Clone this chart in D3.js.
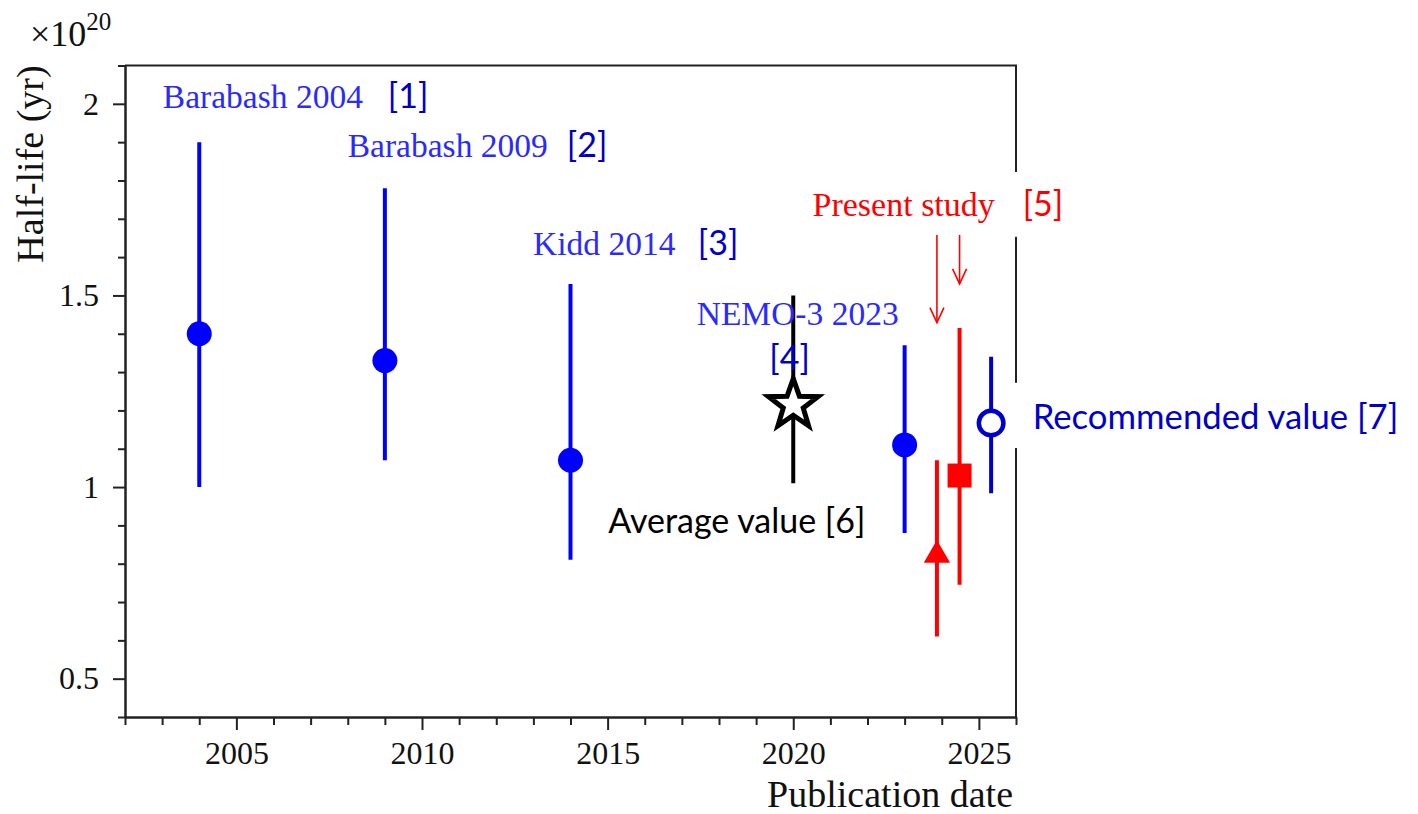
<!DOCTYPE html>
<html>
<head>
<meta charset="utf-8">
<script src="https://cdn.jsdelivr.net/npm/d3@7"></script>
<style>
  body { margin: 0; background: #fff; }
  svg { display: block; }
</style>
</head>
<body>
<svg id="chart" width="1418" height="814"></svg>
<script>
// Earlier measurements of the half-life (units of 10^20 yr)
const measurementNames = ["Barabash 2004", "Barabash 2009", "Kidd 2014", "NEMO-3 2023"];
const measurementRefs = ["[1]", "[2]", "[3]", "[4]"];
const measurementYears = [2004, 2009, 2014, 2023];
const measurementValues = [1.40, 1.33, 1.07, 1.11];
const measurementUpper = [1.90, 1.78, 1.53, 1.37];
const measurementLower = [1.00, 1.07, 0.81, 0.88];

// Average of the earlier measurements
const averageYear = [2020];
const averageValue = [1.215];
const averageUpper = [1.50];
const averageLower = [1.01];

// Present study: two results (triangle, square)
const presentYears = [2023.87, 2024.48];
const presentValues = [0.83, 1.03];
const presentUpper = [1.07, 1.415];
const presentLower = [0.61, 0.745];

// Recommended value
const recommendedYear = [2025.33];
const recommendedValue = [1.167];
const recommendedUpper = [1.34];
const recommendedLower = [0.984];

// Axes
const xTickLabels = [2005, 2010, 2015, 2020, 2025];
const yTickLabels = [0.5, 1, 1.5, 2];
const xDomain = [2002, 2026];
const yDomain = [0.4, 2.1];

const SERIF = "'Liberation Serif', 'Times New Roman', serif";
const SANS = "Lato, 'Open Sans', sans-serif";
const BLUE = "#0000ff";
const LABEL_BLUE = "#2a2aff";
const REF_BLUE = "#0000c8";
const DARK_BLUE = "#0000cc";
const RED = "#ff0000";
const AXIS = "#222";

const svg = d3.select("#chart");
const x = d3.scaleLinear().domain(xDomain).range([125, 1016]);
const y = d3.scaleLinear().domain(yDomain).range([717, 65.5]);

// ---- axes ----
const yMinor = d3.range(4, 22).map(d => d / 10).filter(v => !yTickLabels.some(t => Math.abs(t - v) < 1e-9));
const xMinor = d3.range(xDomain[0], xDomain[1] + 1).filter(v => !xTickLabels.includes(v));

const yAxisG = svg.append("g").attr("transform", `translate(${x(xDomain[0])},0)`);
yAxisG.call(d3.axisLeft(y).tickValues(yMinor).tickSize(7).tickSizeOuter(0).tickFormat(""));
yAxisG.append("g").call(d3.axisLeft(y).tickValues(yTickLabels).tickSize(12).tickSizeOuter(0).tickPadding(14).tickFormat(d3.format("")));

const xAxisG = svg.append("g").attr("transform", `translate(0,${y(yDomain[0])})`);
xAxisG.call(d3.axisBottom(x).tickValues(xMinor).tickSize(8).tickSizeOuter(0).tickFormat(""));
xAxisG.append("g").call(d3.axisBottom(x).tickValues(xTickLabels).tickSize(13).tickSizeOuter(0).tickPadding(11).tickFormat(d3.format("d")));

svg.selectAll(".domain").attr("stroke", AXIS).attr("stroke-width", 2);
svg.selectAll(".tick line").attr("stroke", AXIS).attr("stroke-width", 2);
svg.selectAll(".tick text").attr("font-family", SERIF).attr("font-size", 32).attr("fill", "#111");

// top and right frame
svg.append("path")
  .attr("d", `M${x(xDomain[0])},${y(yDomain[1])}H${x(xDomain[1])}V${y(yDomain[0])}`)
  .attr("fill", "none").attr("stroke", AXIS).attr("stroke-width", 2);

// axis titles
svg.append("text")
  .attr("transform", "translate(43,164) rotate(-90)")
  .attr("text-anchor", "middle")
  .attr("font-family", SERIF).attr("font-size", 38).attr("fill", "#111")
  .text("Half-life (yr)");

svg.append("text")
  .attr("x", x(xDomain[1]) - 3).attr("y", 807)
  .attr("text-anchor", "end")
  .attr("font-family", SERIF).attr("font-size", 38).attr("fill", "#111")
  .text("Publication date");

const mult = svg.append("text")
  .attr("x", 30).attr("y", 46)
  .attr("font-family", SERIF).attr("font-size", 36).attr("fill", "#111");
mult.append("tspan").text("×10");
mult.append("tspan").attr("font-size", 25).attr("dy", -16).text("20");

// ---- text boxes that sit over the right frame ----
function whiteBox(yearFrom, yearTo, vTop, vBottom) {
  svg.append("rect")
    .attr("x", x(yearFrom)).attr("y", y(vTop))
    .attr("width", x(yearTo) - x(yearFrom)).attr("height", y(vBottom) - y(vTop))
    .attr("fill", "#fff");
}
whiteBox(2025.8, 2027.6, 1.822, 1.653);
whiteBox(2025.8, 2037.5, 1.272, 1.102);

// ---- error bars ----
function errorBar(xs, lo, hi, color, width) {
  svg.append("g").selectAll("line").data(xs).join("line")
    .attr("x1", d => x(d)).attr("x2", d => x(d))
    .attr("y1", (d, i) => y(hi[i])).attr("y2", (d, i) => y(lo[i]))
    .attr("stroke", color).attr("stroke-width", width);
}
errorBar(measurementYears, measurementLower, measurementUpper, BLUE, 4);
errorBar(averageYear, averageLower, averageUpper, "#000", 4);
errorBar(presentYears, presentLower, presentUpper, RED, 4);
errorBar(recommendedYear, recommendedLower, recommendedUpper, DARK_BLUE, 4);

// ---- markers ----
svg.append("g").selectAll("circle").data(measurementYears).join("circle")
  .attr("cx", d => x(d)).attr("cy", (d, i) => y(measurementValues[i]))
  .attr("r", 12.5).attr("fill", BLUE);

// five-pointed star for the average
function starPath(R, r) {
  const pts = d3.range(10).map(i => {
    const a = -Math.PI / 2 + i * Math.PI / 5;
    const rad = i % 2 === 0 ? R : r;
    return [rad * Math.cos(a), rad * Math.sin(a)];
  });
  return "M" + pts.map(p => p.join(",")).join("L") + "Z";
}
svg.append("g").selectAll("path").data(averageYear).join("path")
  .attr("transform", (d, i) => `translate(${x(d)},${y(averageValue[i])})`)
  .attr("d", starPath(26, 10.5))
  .attr("fill", "#fff").attr("stroke", "#000").attr("stroke-width", 5)
  .attr("stroke-linejoin", "miter").attr("stroke-miterlimit", 10);

// triangle and square for the present study
const triSym = d3.symbol().type(d3.symbolTriangle).size(300);
svg.append("path")
  .attr("transform", `translate(${x(presentYears[0])},${y(presentValues[0]) + 3})`)
  .attr("d", triSym()).attr("fill", RED);
svg.append("rect")
  .attr("x", x(presentYears[1]) - 12).attr("y", y(presentValues[1]) - 12)
  .attr("width", 24).attr("height", 24).attr("fill", RED);

// open circle for the recommended value
svg.append("g").selectAll("circle").data(recommendedYear).join("circle")
  .attr("cx", d => x(d)).attr("cy", (d, i) => y(recommendedValue[i]))
  .attr("r", 12.3).attr("fill", "#fff").attr("stroke", DARK_BLUE).attr("stroke-width", 4.5);

// ---- arrows pointing at the present-study results ----
const arrowTips = [1.429, 1.530];
presentYears.forEach((yr, i) => {
  const px = x(yr), y0 = y(1.658), y1 = y(arrowTips[i]);
  svg.append("line").attr("x1", px).attr("x2", px).attr("y1", y0).attr("y2", y1)
    .attr("stroke", RED).attr("stroke-width", 1.6);
  svg.append("path")
    .attr("d", `M${px - 7},${y1 - 15}L${px},${y1}L${px + 7},${y1 - 15}`)
    .attr("fill", "none").attr("stroke", RED).attr("stroke-width", 1.6);
});

// ---- labels ----
function label(txt, yr, v, opts) {
  svg.append("text")
    .attr("x", x(yr)).attr("y", y(v))
    .attr("text-anchor", opts.anchor || "start")
    .attr("font-family", opts.font).attr("font-size", opts.size).attr("fill", opts.color)
    .text(txt);
}
const serifLbl = { font: SERIF, size: 33.5, color: LABEL_BLUE };
const refLbl = { font: SANS, size: 34, color: REF_BLUE };

label(measurementNames[0], 2003.02, 1.990, serifLbl);
label(measurementRefs[0], 2009.08, 1.990, refLbl);
label(measurementNames[1], 2008.00, 1.862, serifLbl);
label(measurementRefs[1], 2013.90, 1.862, refLbl);
label(measurementNames[2], 2012.99, 1.606, serifLbl);
label(measurementRefs[2], 2017.43, 1.606, refLbl);
label(measurementNames[3], 2017.40, 1.423, serifLbl);
label(measurementRefs[3], 2019.90, 1.306, Object.assign({}, refLbl, { anchor: "middle" }));

label("Present study", 2020.52, 1.708, { font: SERIF, size: 34, color: RED });
label("[5]", 2026.18, 1.708, { font: SANS, size: 34, color: RED });

label("Average value [6]", 2018.48, 0.881, { font: SANS, size: 34, color: "#000", anchor: "middle" });
label("Recommended value [7]", 2026.45, 1.152, { font: SANS, size: 34.7, color: DARK_BLUE });
</script>
</body>
</html>
